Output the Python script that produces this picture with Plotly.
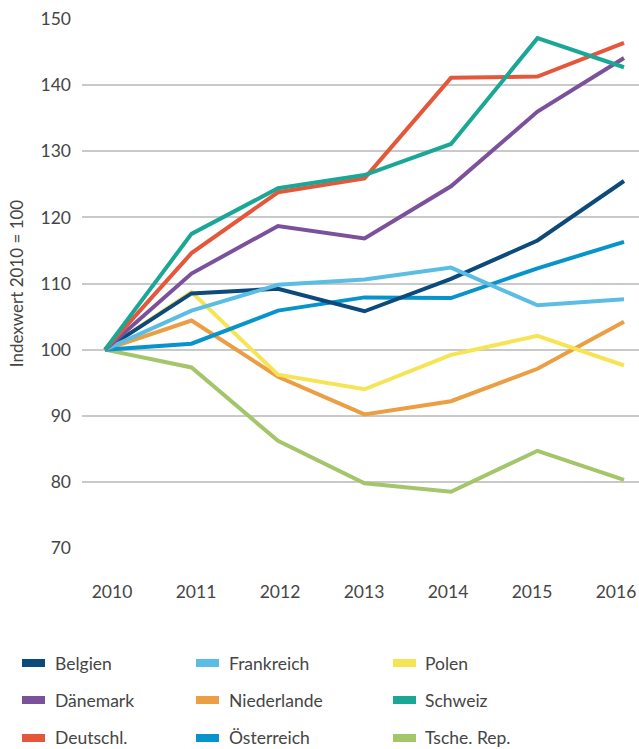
import plotly.graph_objects as go

years = [2010, 2011, 2012, 2013, 2014, 2015, 2016]

belgien     = [100, 108.5, 109.2, 105.8, 110.7, 116.5, 125.5]
frankreich  = [100, 105.9, 109.8, 110.6, 112.4, 106.7, 107.6]
polen       = [100, 108.7, 96.2, 94.0, 99.2, 102.1, 97.6]
daenemark   = [100, 111.5, 118.7, 116.8, 124.7, 136.0, 144.1]
niederlande = [100, 104.4, 95.9, 90.2, 92.2, 97.1, 104.2]
schweiz     = [100, 117.5, 124.4, 126.4, 131.1, 147.1, 142.7]
deutschl    = [100, 114.6, 123.8, 125.9, 141.1, 141.3, 146.4]
oesterreich = [100, 100.9, 105.9, 107.9, 107.8, 112.3, 116.3]
tschechien  = [100, 97.3, 86.2, 79.8, 78.5, 84.7, 80.3]

names = ["Belgien", "Frankreich", "Polen",
         "Dänemark", "Niederlande", "Schweiz",
         "Deutschl.", "Österreich", "Tsche. Rep."]
series = [belgien, frankreich, polen,
          daenemark, niederlande, schweiz,
          deutschl, oesterreich, tschechien]
colors = ["#0b4a7b", "#5bbde4", "#f6e455",
          "#7c519c", "#eb9e42", "#1aa795",
          "#e4573a", "#0793cc", "#a4c56a"]

draw_order = [8, 4, 2, 7, 0, 1, 3, 6, 5]

yticks = [70, 80, 90, 100, 110, 120, 130, 140, 150]

FONT = "Lato"
TXT = "#454545"

fig = go.Figure()
for i in draw_order:
    fig.add_trace(go.Scatter(
        x=years, y=series[i], mode="lines", name=names[i],
        line=dict(color=colors[i], width=4), showlegend=False,
    ))

W, H = 639, 749
L, R, T, B = 82, 639, 19, 548
pw, ph = R - L, B - T

def px(x):
    return (x - L) / pw

def py(y):
    return (B - y) / ph

col_sw = [22, 196, 393]
col_tx = [53, 227, 423]
row_y = [663, 700, 738]
shapes = []
annotations = []
for k, (nm, c) in enumerate(zip(names, colors)):
    r, cidx = divmod(k, 3)
    shapes.append(dict(type="rect", xref="paper", yref="paper",
                       x0=px(col_sw[cidx]), x1=px(col_sw[cidx] + 23),
                       y0=py(row_y[r] + 4), y1=py(row_y[r] - 4),
                       fillcolor=c, line=dict(width=0)))
    annotations.append(dict(xref="paper", yref="paper", x=px(col_tx[cidx]), y=py(row_y[r]),
                            text=nm, showarrow=False, xanchor="left", yanchor="middle",
                            font=dict(family=FONT, size=17.5, color=TXT)))

step = 86.5
x0 = 2010 - (105 - L) / step
x1 = x0 + pw / step
lstep = (616 - 112) / 6
lx0 = 2010 - (112 - L) / lstep
lx1 = lx0 + pw / lstep

fig.update_layout(
    width=W, height=H,
    margin=dict(l=L, r=W - R, t=T, b=H - B),
    paper_bgcolor="white", plot_bgcolor="white",
    font=dict(family=FONT, size=17.5, color=TXT),
    shapes=shapes, annotations=annotations,
    xaxis=dict(range=[x0, x1], showticklabels=False,
               showgrid=False, zeroline=False, showline=False, ticks="",
               fixedrange=True),
    xaxis2=dict(range=[lx0, lx1], overlaying="x", side="bottom", anchor="y",
                tickvals=years, ticktext=[str(y) for y in years],
                showgrid=False, zeroline=False, showline=False, ticks="",
                ticklabelstandoff=31, ticklabeloverflow="allow", fixedrange=True),
    yaxis=dict(range=[70, 150], tickvals=yticks, showgrid=True,
               gridcolor="#c9c9c9", gridwidth=1.6, zeroline=False, showline=False,
               ticks="", ticklabelstandoff=10,
               title=dict(text="Indexwert 2010 = 100", standoff=12,
                          font=dict(family=FONT, size=17, color=TXT)),
               fixedrange=True),
)
fig.add_trace(go.Scatter(x=[years[0]], y=[yticks[0]], xaxis="x2", mode="markers",
                         marker=dict(opacity=0), showlegend=False, hoverinfo="skip"))

fig.write_html("out.html", config={"displayModeBar": False},
               post_script="document.body.style.margin='0';window.dispatchEvent(new Event('resize'));")
